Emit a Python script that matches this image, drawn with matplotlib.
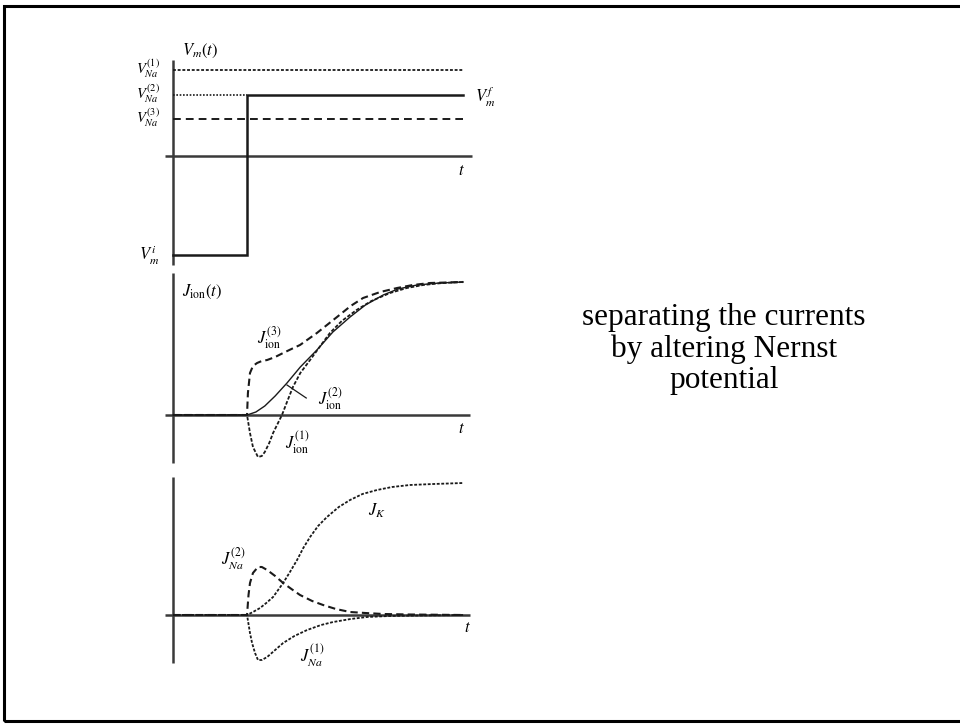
'''
voltage clamp schematic: separating ionic currents by altering the Nernst potential.
'''

import matplotlib.pyplot as plt
from matplotlib.patches import Rectangle

plt.rcParams["mathtext.fontset"] = "stix"
plt.rcParams["font.family"] = "Liberation Serif"

# clamp protocol levels.
T_STEP = 2.5
V_NA = [8.6, 6.1, 3.7]          # V_Na^(1), V_Na^(2), V_Na^(3)
V_INIT = -9.9                   # V_m^i
V_FINAL = 6.1                   # V_m^f
T_END = 9.8

# total ionic currents for the three Nernst potentials.
t_ion1 = [0.0, 2.5, 2.6, 2.7, 2.87, 3.0, 3.1, 3.25, 3.38, 3.53, 3.68, 3.85, 4.05, 4.3, 4.63, 5.0, 5.3, 5.7, 6.2, 6.7, 7.33, 7.9, 8.45, 9.1, 9.8]
j_ion1 = [0.0, 0.0, -1.8, -3.2, -4.2, -4.1, -3.7, -2.8, -1.8, -0.9, 0.0, 1.3, 2.8, 4.2, 5.5, 7.0, 8.2, 9.4, 10.5, 11.4, 12.2, 12.7, 13.0, 13.2, 13.3]
t_ion2 = [0.0, 2.5, 2.8, 3.1, 3.45, 3.85, 4.3, 4.86, 5.4, 5.98, 6.5, 7.1, 7.6, 8.24, 9.0, 9.8]
j_ion2 = [0.0, 0.0, 0.3, 0.9, 1.9, 3.2, 4.8, 6.5, 8.3, 9.8, 11.0, 12.0, 12.6, 13.0, 13.2, 13.3]
t_ion3 = [0.0, 2.5, 2.53, 2.6, 2.7, 2.84, 3.0, 3.18, 3.45, 3.72, 4.0, 4.29, 4.86, 5.54, 6.0, 6.42, 7.0, 7.57, 8.1, 8.68, 9.8]
j_ion3 = [0.0, 0.0, 2.2, 4.2, 4.9, 5.2, 5.4, 5.5, 5.8, 6.2, 6.6, 7.0, 8.2, 9.8, 10.9, 11.7, 12.3, 12.7, 13.0, 13.2, 13.3]

# potassium and sodium components.
t_k = [0.0, 2.5, 2.7, 2.94, 3.15, 3.38, 3.55, 3.72, 3.95, 4.19, 4.4, 4.63, 4.9, 5.2, 5.6, 5.98, 6.4, 6.89, 7.4, 8.0, 8.8, 9.8]
j_k = [0.0, 0.0, 0.3, 0.7, 1.2, 1.8, 2.5, 3.2, 4.3, 5.5, 6.7, 7.8, 8.9, 9.8, 10.8, 11.5, 12.1, 12.5, 12.8, 13.0, 13.1, 13.2]
t_na3 = [0.0, 2.5, 2.55, 2.6, 2.7, 2.87, 3.0, 3.18, 3.45, 3.72, 4.0, 4.29, 4.7, 5.07, 5.5, 5.98, 6.5, 7.1, 8.0, 9.8]
j_na3 = [0.0, 0.0, 2.0, 3.2, 4.2, 4.8, 4.8, 4.5, 3.9, 3.2, 2.6, 2.0, 1.4, 1.0, 0.6, 0.3, 0.2, 0.1, 0.05, 0.0]
t_na1 = [0.0, 2.5, 2.6, 2.67, 2.77, 2.87, 3.0, 3.18, 3.45, 3.72, 4.1, 4.53, 5.0, 5.41, 6.0, 6.55, 7.3, 8.24, 9.8]
j_na1 = [0.0, 0.0, -1.8, -2.8, -3.8, -4.5, -4.5, -4.2, -3.5, -2.8, -2.1, -1.5, -1.0, -0.7, -0.4, -0.2, -0.1, -0.05, 0.0]

INK = "#1a1a1a"
AXIS = "#3a3a3a"
LABEL_FS = 12

fig = plt.figure(figsize=(9.6, 7.24), dpi=100)

# slide frame.
fig.patches.append(Rectangle((4 / 960, 1 - 721 / 724), 1.2, 715 / 724, transform=fig.transFigure,
                             fill=False, edgecolor="black", linewidth=2.2))


def panel(top_px, bottom_px, ylim):
    ax = fig.add_axes([160 / 960, 1 - bottom_px / 724, 320 / 960, (bottom_px - top_px) / 724])
    ax.set_xlim(-0.44, 10.37)
    ax.set_ylim(*ylim)
    ax.axis("off")
    return ax


def axes_lines(ax, ybot, ytop, xend):
    ax.plot([0, 0], [ybot, ytop], color=AXIS, linewidth=1.8, solid_capstyle="butt")
    ax.plot([-0.27, xend], [0, 0], color=AXIS, linewidth=1.8, solid_capstyle="butt")


# membrane potential under clamp.
ax1 = panel(40, 280, (-12.4, 11.6))
axes_lines(ax1, -10.9, 9.6, 10.1)
ax1.plot([0, T_END], [V_NA[0], V_NA[0]], color=INK, linewidth=1.3, dashes=(1.6, 1.0))
ax1.plot([0, T_STEP], [V_NA[1], V_NA[1]], color=INK, linewidth=1.2, dashes=(1.0, 1.0))
ax1.plot([0, T_END], [V_NA[2], V_NA[2]], color=INK, linewidth=1.4, dashes=(4.0, 2.6))
ax1.plot([0, T_STEP, T_STEP, T_END], [V_INIT, V_INIT, V_FINAL, V_FINAL],
         color=INK, linewidth=1.8, solid_joinstyle="miter")
ax1.text(0.3, 10.5, r"$V_{m}(t)$", fontsize=LABEL_FS, va="center")
for i, v in enumerate(V_NA, 1):
    ax1.text(-0.45, v + 0.1, r"$V_{Na}^{(%d)}$" % i, fontsize=10.5, ha="right", va="center")
ax1.text(-0.45, V_INIT, r"$V_{m}^{i}$", fontsize=LABEL_FS, ha="right", va="center")
ax1.text(T_END + 0.4, V_FINAL - 0.2, r"$V_{m}^{f}$", fontsize=LABEL_FS, ha="left", va="center")
ax1.text(9.75, -1.5, r"$t$", fontsize=LABEL_FS, ha="center", va="center")

# total ionic current.
ax2 = panel(265, 470, (-5.5, 15.0))
axes_lines(ax2, -4.8, 14.2, 10.03)
ax2.plot(t_ion1, j_ion1, color=INK, linewidth=1.3, dashes=(2.0, 1.0))
ax2.plot(t_ion2, j_ion2, color=INK, linewidth=1.0)
ax2.plot(t_ion3, j_ion3, color=INK, linewidth=1.5, dashes=(3.5, 2.0))
ax2.text(0.3, 12.3, r"$J_{\rm ion}(t)$", fontsize=LABEL_FS, va="center")
ax2.text(3.25, 7.7, r"$J_{\rm ion}^{(3)}$", fontsize=LABEL_FS, ha="center", va="center")
ax2.plot([3.85, 4.5], [3.0, 1.7], color=INK, linewidth=0.9)
ax2.text(5.3, 1.6, r"$J_{\rm ion}^{(2)}$", fontsize=LABEL_FS, ha="center", va="center")
ax2.text(4.2, -2.8, r"$J_{\rm ion}^{(1)}$", fontsize=LABEL_FS, ha="center", va="center")
ax2.text(9.75, -1.4, r"$t$", fontsize=LABEL_FS, ha="center", va="center")

# potassium and sodium contributions.
ax3 = panel(470, 680, (-6.5, 14.5))
axes_lines(ax3, -4.8, 13.8, 10.03)
ax3.plot(t_k, j_k, color=INK, linewidth=1.3, dashes=(1.6, 0.9))
ax3.plot(t_na3, j_na3, color=INK, linewidth=1.5, dashes=(3.5, 2.0))
ax3.plot(t_na1, j_na1, color=INK, linewidth=1.3, dashes=(1.6, 0.9))
ax3.text(6.9, 10.4, r"$J_{K}$", fontsize=LABEL_FS, ha="center", va="center")
ax3.text(2.05, 5.6, r"$J_{Na}^{(2)}$", fontsize=LABEL_FS, ha="center", va="center")
ax3.text(4.7, -4.1, r"$J_{Na}^{(1)}$", fontsize=LABEL_FS, ha="center", va="center")
ax3.text(9.95, -1.3, r"$t$", fontsize=LABEL_FS, ha="center", va="center")

# caption beside the panels.
fig.text(724 / 960, 1 - 349 / 724, "separating the currents\nby altering Nernst\npotential",
         fontsize=22.5, ha="center", va="center", linespacing=1.12, family="Liberation Serif")

fig.savefig("out.png", dpi=100)
